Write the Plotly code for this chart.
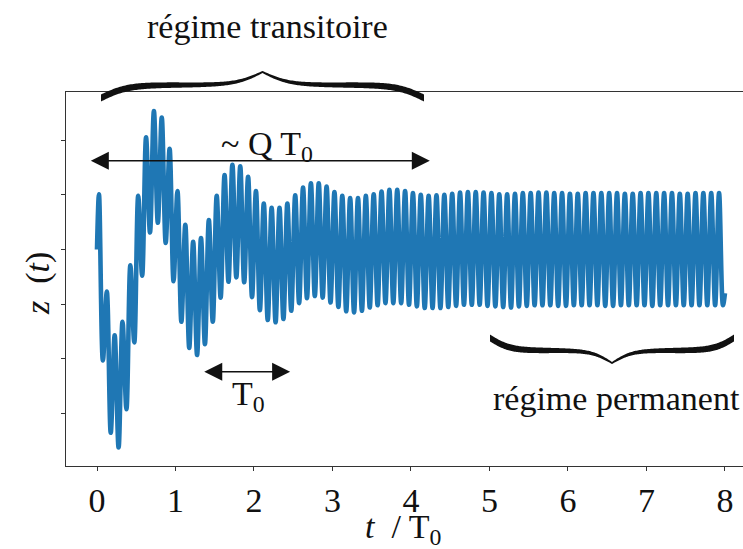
import numpy as np
import plotly.graph_objects as go

# ---------------- data ----------------
period = 0.1          # forced period, in units of T0
t_first_max = 0.025   # time of the first maximum
t_start, z_start = 0.0, 0.0
t_end, z_end = 8.0, -0.8

z_max = [1.01, -0.77, -1.57, -1.32, -0.29, 0.98, 2.05, 2.53, 2.41, 1.84,
         1.07, 0.45, 0.14, 0.21, 0.54, 0.98, 1.36, 1.55, 1.52, 1.33,
         1.07, 0.84, 0.76, 0.76, 0.84, 0.99, 1.13, 1.21, 1.21, 1.15,
         1.05, 0.98, 0.94, 0.94, 0.98, 1.01, 1.06, 1.09, 1.09, 1.07,
         1.03, 1.00, 0.98, 0.99, 1.00, 1.02, 1.04, 1.05, 1.05, 1.04,
         1.03, 1.01, 1.01, 1.02, 1.03, 1.03, 1.04, 1.04, 1.03, 1.03,
         1.02, 1.02, 1.03, 1.03, 1.03, 1.03, 1.03, 1.02, 1.02, 1.03,
         1.03, 1.03, 1.03, 1.03, 1.02, 1.02, 1.03, 1.03, 1.03, 1.03]
z_min = [-2.03, -3.35, -3.62, -2.92, -1.70, -0.48, 0.31, 0.49, 0.12, -0.58,
         -1.32, -1.80, -1.93, -1.73, -1.32, -0.88, -0.59, -0.51, -0.60, -0.87,
         -1.11, -1.29, -1.33, -1.27, -1.12, -0.98, -0.89, -0.85, -0.88, -0.97,
         -1.05, -1.13, -1.15, -1.12, -1.06, -1.02, -0.98, -0.98, -0.98, -1.01,
         -1.04, -1.07, -1.07, -1.07, -1.05, -1.03, -1.01, -1.01, -1.01, -1.03,
         -1.04, -1.05, -1.06, -1.04, -1.03, -1.02, -1.02, -1.02, -1.03, -1.03,
         -1.02, -1.02, -1.02, -1.02, -1.03, -1.03, -1.02, -1.02, -1.02, -1.02,
         -1.03, -1.02, -1.02, -1.02, -1.02, -1.02, -1.02, -1.02, -1.02, -1.02]

x_ticks = [0, 1, 2, 3, 4, 5, 6, 7, 8]
y_ticks = [-3, -2, -1, 0, 1, 2]

# ---------------- build the series ----------------
t = [t_start]
z = [z_start]
for k in range(len(z_max)):
    t.append(round(t_first_max + period * k, 4))
    z.append(z_max[k])
    t.append(round(t_first_max + period * k + period / 2, 4))
    z.append(z_min[k])
t.append(t_end)
z.append(z_end)

W, H = 743, 549
L, R, T, B = 66, 743, 92, 466
FONT = "'Times New Roman', 'Liberation Serif', 'DejaVu Serif', serif"
FS = 34
INK = "#111111"


def px(x):
    return (x - L) / (R - L)


def py(y):
    return (B - y) / (B - T)


def brace(xl, xr, y_end, y_tip, beta=12.0, wmax=7.0, wmin=1.8, n=120):
    xm = 0.5 * (xl + xr)
    h = xm - xl
    y_arm = 0.5 * (y_end + y_tip)
    u = np.linspace(0, 1, n)
    s = 1 / (1 + np.exp(-beta * u)) + 1 / (1 + np.exp(-beta * (u - 1)))
    yc = y_arm + (s - 1) * (y_tip - y_end)
    w = wmin + (wmax - wmin) * np.sin(np.pi * np.clip(u * 0.9 + 0.1, 0, 1) * 0.5 + 0.5 * np.pi) ** 0.6
    w = wmin + (wmax - wmin) * (1 - u) ** 0.6
    xs_half = xl + u * h
    xs = np.concatenate([xs_half, (2 * xm - xs_half)[::-1][1:]])
    ycs = np.concatenate([yc, yc[::-1][1:]])
    ws = np.concatenate([w, w[::-1][1:]])
    sign = 1 if y_tip < y_end else -1
    upper = ycs - sign * ws / 2
    lower = ycs + sign * ws / 2
    pts = list(zip(xs, upper)) + list(zip(xs[::-1], lower[::-1]))
    path = "M " + " L ".join(f"{px(a):.5f},{py(b):.5f}" for a, b in pts) + " Z"
    return dict(type="path", xref="paper", yref="paper", path=path,
                fillcolor=INK, line=dict(width=0), layer="above")


fig = go.Figure()
fig.add_trace(go.Scatter(x=t, y=z, mode="lines",
                         line=dict(color="#1f77b4", width=4.6, shape="spline", smoothing=1.0),
                         hoverinfo="skip", showlegend=False))

fig.update_layout(
    width=W, height=H,
    margin=dict(l=L, r=W - R, t=T, b=H - B, pad=0),
    paper_bgcolor="white", plot_bgcolor="white",
    font=dict(family=FONT, size=FS, color=INK),
    xaxis=dict(range=[-0.395, 8.23], tickvals=x_ticks, ticks="outside", ticklen=4,
               tickwidth=1, tickcolor="#333", showline=True, linecolor="#333",
               linewidth=1, mirror=True, showgrid=False, zeroline=False,
               tickfont=dict(family=FONT, size=FS, color=INK)),
    yaxis=dict(range=[-3.958, 2.879], tickvals=y_ticks, showticklabels=False,
               ticks="outside", ticklen=4, tickwidth=1, tickcolor="#333",
               showline=True, linecolor="#333", linewidth=1, mirror=False,
               showgrid=False, zeroline=False),
    shapes=[brace(101, 424, 98, 72), brace(490, 734, 338, 363)],
)

ann = []
def text(s, x, y, rot=0):
    ann.append(dict(text=s, x=px(x), y=py(y), xref="paper", yref="paper",
                    showarrow=False, xanchor="center", yanchor="middle",
                    textangle=rot, font=dict(family=FONT, size=FS, color=INK)))

text("régime transitoire", 267, 27)
text("~ Q T<sub>0</sub>", 267, 146)
text("T<sub>0</sub>", 249, 396)
text("régime permanent", 616, 398)
text("<i>t</i>  / T<sub>0</sub>", 403, 529)
text("<i>z</i>  (<i>t</i>)", 38, 284, rot=-90)

def arrow(t0, t1, zz):
    ann.append(dict(text="", x=t1, y=zz, ax=t0, ay=zz, xref="x", yref="y",
                    axref="x", ayref="y", showarrow=True, arrowside="end+start",
                    arrowhead=2, arrowsize=2.4, arrowwidth=1.5, arrowcolor=INK,
                    standoff=0, startstandoff=0))

arrow(-0.098, 4.24, 1.62)
arrow(1.347, 2.46, -2.234)

fig.update_layout(annotations=ann)
fig.write_html("out.html")
